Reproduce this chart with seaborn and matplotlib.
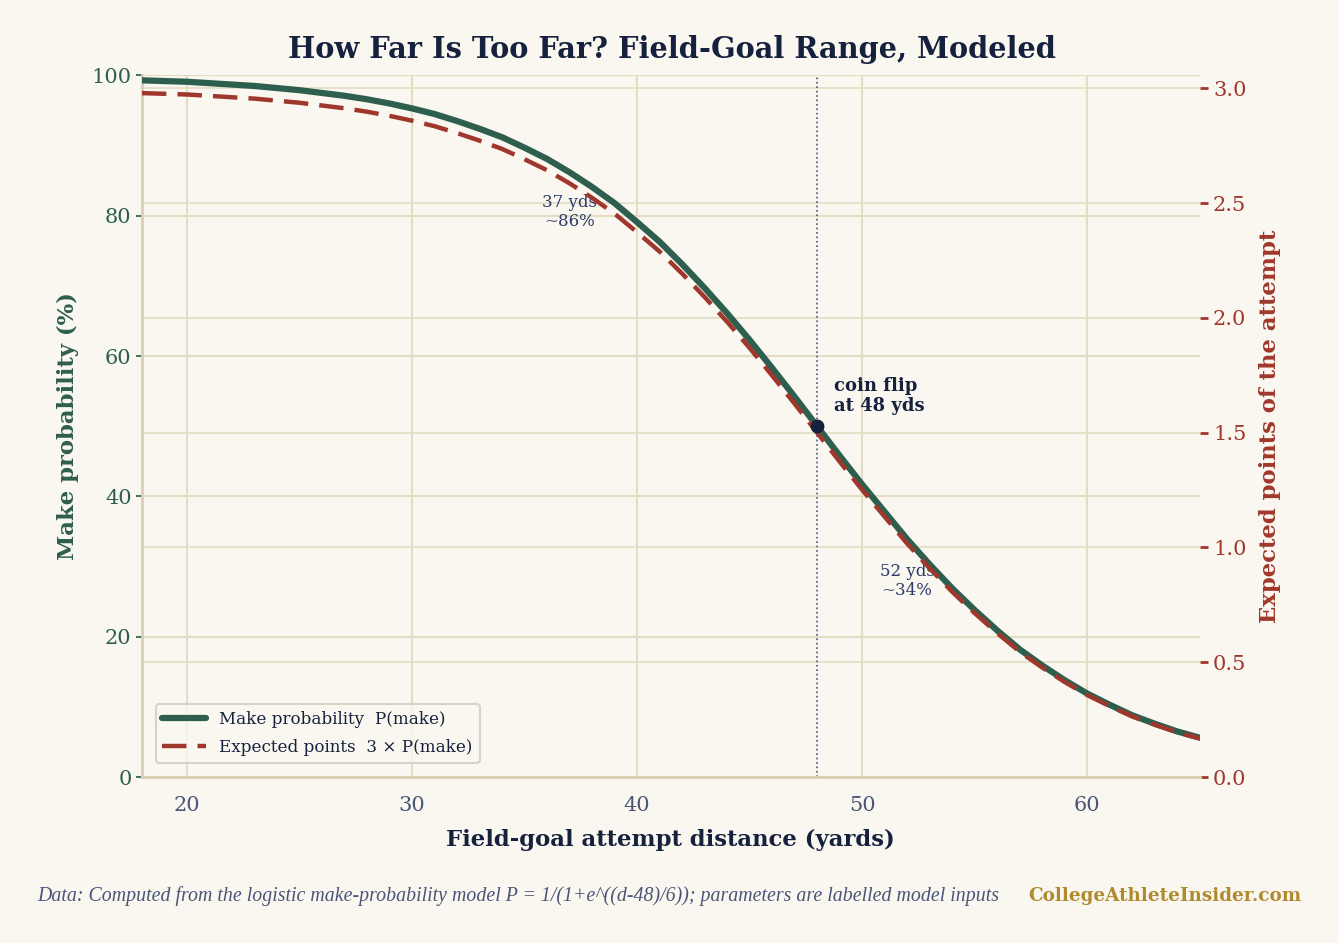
import numpy as np
import pandas as pd
import matplotlib.pyplot as plt
import seaborn as sns
from matplotlib.lines import Line2D

# distancias (yardas) y probabilidad (%)
distancia = list(range(18, 66))
prob_make = [99.3, 99.2, 99.1, 98.9, 98.7, 98.5, 98.2, 97.9, 97.5, 97.1,
             96.6, 96.0, 95.3, 94.5, 93.5, 92.4, 91.2, 89.7, 88.1, 86.2,
             84.1, 81.8, 79.1, 76.3, 73.1, 69.7, 66.1, 62.3, 58.3, 54.2,
             50.0, 45.8, 41.7, 37.8, 33.9, 30.3, 26.9, 23.8, 20.9, 18.2,
             15.9, 13.8, 11.9, 10.3, 8.8, 7.6, 6.5, 5.6]
puntos_esperados = [3 * p / 100 for p in prob_make]

x_ticks = [20, 30, 40, 50, 60]
y_ticks_izq = [0, 20, 40, 60, 80, 100]
y_ticks_der = [0.0, 0.5, 1.0, 1.5, 2.0, 2.5, 3.0]

df = pd.DataFrame({'d': distancia, 'p': prob_make, 'ep': puntos_esperados})

BG = '#f9f7ef'
VERDE = '#2e5e4e'
ROJO = '#a0372c'
NAVY = '#16213e'
GRIS = '#4a5578'
GRID = '#e4ddc6'
ORO = '#b08a2e'
TOPE_DER = 3.056
GUION = (0, (5.5, 2.5))

sns.set_theme(style='white')
plt.rcParams['font.family'] = ['DejaVu Serif']

fig = plt.figure(figsize=(13.39, 9.43), dpi=100, facecolor=BG)
ax = fig.add_axes([0.106, 0.176, 0.790, 0.744])
ax.set_facecolor(BG)
ax2 = ax.twinx()
ax2.patch.set_visible(False)

sns.lineplot(data=df, x='d', y='p', ax=ax, color=VERDE, lw=4.5, zorder=3)
sns.lineplot(data=df, x='d', y='ep', ax=ax2, color=ROJO, lw=3.2, ls=GUION, zorder=4)

ax.set_xlim(18, 65)
ax.set_ylim(0, 100)
ax2.set_ylim(0, TOPE_DER)
ax.set_xticks(x_ticks)
ax.set_yticks(y_ticks_izq)
ax2.set_yticks(y_ticks_der)
ax2.set_yticklabels([f'{v:.1f}' for v in y_ticks_der])

ax.grid(True, color=GRID, lw=1.5)
ax.set_axisbelow(True)
# rejilla del eje derecho, dibujada por debajo de las curvas
for v in y_ticks_der[1:]:
    ax.axhline(v / TOPE_DER * 100, color=GRID, lw=1.2, zorder=0.5)

for a in (ax, ax2):
    for s in ('top', 'right', 'left'):
        a.spines[s].set_visible(False)
    a.spines['bottom'].set_color('#d8cfb4')
    a.spines['bottom'].set_linewidth(2)
ax.spines['left'].set_visible(True)
ax.spines['left'].set_color('#d8cfb4')
ax.spines['left'].set_linewidth(2)

ax.tick_params(axis='x', colors=GRIS, labelsize=15, length=4, pad=10)
ax.tick_params(axis='y', colors=VERDE, labelsize=15, length=4, left=True)
ax2.tick_params(axis='y', colors=ROJO, labelsize=15, length=6, right=True, width=2)

ax.set_xlabel('Field-goal attempt distance (yards)', fontsize=16.4, fontweight='bold', color=NAVY, labelpad=10)
ax.set_ylabel('Make probability (%)', fontsize=16.4, fontweight='bold', color=VERDE, labelpad=9)
ax2.set_ylabel('Expected points of the attempt', fontsize=16.4, fontweight='bold', color=ROJO, labelpad=9)

# el punto 50/50 (en ax2 para quedar encima, pero en coordenadas de ax)
ax.axvline(48, color='#4a5578', lw=1.2, ls=':', zorder=2)
ax2.scatter([48], [50], s=80, color=NAVY, zorder=6, transform=ax.transData)
ax.text(48.75, 54.3, 'coin flip\nat 48 yds', fontsize=13, fontweight='bold', color=NAVY,
        va='center', ha='left', linespacing=1.15)
ax.text(37, 80.5, '37 yds\n~86%', fontsize=12, color='#2b3a66', ha='center', va='center', linespacing=1.15)
ax.text(52, 28, '52 yds\n~34%', fontsize=12, color='#2b3a66', ha='center', va='center', linespacing=1.15)

handles = [Line2D([0], [0], color=VERDE, lw=4.5),
           Line2D([0], [0], color=ROJO, lw=3.2, ls=GUION)]
labels = ['Make probability  P(make)', 'Expected points  3 × P(make)']
leg = ax2.legend(handles, labels, loc='lower left', bbox_to_anchor=(0.005, 0.008), fontsize=12.1,
                 frameon=True, facecolor=BG, edgecolor='#d0cbbd', labelcolor=NAVY,
                 labelspacing=0.7, handlelength=2.6)
leg.get_frame().set_linewidth(1.5)

fig.text(0.502, 0.947, 'How Far Is Too Far? Field-Goal Range, Modeled', ha='center', va='center',
         fontsize=20.8, fontweight='bold', color=NAVY)
fig.text(0.028, 0.050, 'Data: Computed from the logistic make-probability model P = 1/(1+e^((d-48)/6)); '
         'parameters are labelled model inputs', ha='left', va='center', fontsize=14.3,
         style='italic', color=GRIS, family=['Liberation Serif'])
fig.text(0.972, 0.050, 'CollegeAthleteInsider.com', ha='right', va='center', fontsize=13.2,
         fontweight='bold', color=ORO)

fig.savefig('out.png', dpi=100, facecolor=BG)
